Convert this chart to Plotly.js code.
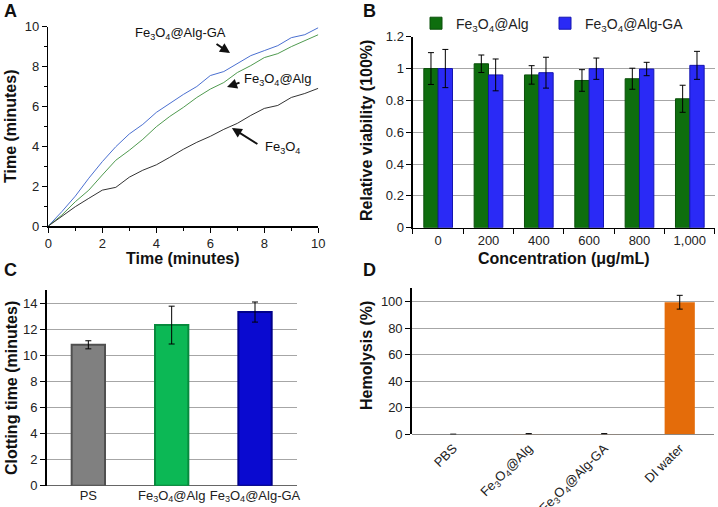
<!DOCTYPE html>
<html><head><meta charset="utf-8">
<script src="https://cdn.plot.ly/plotly-3.0.1.min.js"></script>
<style>html,body{margin:0;padding:0;background:#fff}#chart{width:718px;height:507px}</style>
</head><body><div id="chart"></div>
<script>
// Panel A: time series
const timeA = [0,0.5,1,1.5,2,2.5,3,3.5,4,4.5,5,5.5,6,6.5,7,7.5,8,8.5,9,9.5,10];
const algGA_A = [0,0.72,1.5,2.4,3.23,3.98,4.62,5.1,5.7,6.15,6.6,7.0,7.55,7.75,8.15,8.55,8.8,9.05,9.45,9.6,9.95];
const alg_A = [0,0.55,1.22,1.8,2.56,3.3,3.8,4.35,4.98,5.5,5.95,6.45,6.87,7.2,7.7,8.05,8.45,8.65,9.0,9.3,9.6];
const fe3o4_A = [0,0.47,0.97,1.39,1.8,1.94,2.45,2.8,3.07,3.45,3.85,4.2,4.5,4.85,5.15,5.55,5.9,6.05,6.45,6.65,6.91];

// Panel B: viability
const concB = ['0','200','400','600','800','1,000'];
const algB = [1.0,1.03,0.96,0.925,0.936,0.81];
const algB_err = [0.1,0.055,0.058,0.068,0.066,0.085];
const gaB = [1.0,0.96,0.974,0.999,0.997,1.02];
const gaB_err = [0.12,0.1,0.097,0.067,0.042,0.088];

// Panel C: clotting time
const catC = ['PS','Fe<sub>3</sub>O<sub>4</sub>@Alg','Fe<sub>3</sub>O<sub>4</sub>@Alg-GA'];
const valC = [10.8,12.31,13.31];
const errC = [0.31,1.45,0.77];
const colC = ['#808080','#0cb855','#0a0ad0'];
const lineC = ['#505050','#078a3d','#00008a'];

// Panel D: hemolysis
const catD = ['PBS','Fe<sub>3</sub>O<sub>4</sub>@Alg','Fe<sub>3</sub>O<sub>4</sub>@Alg-GA','DI water'];
const valD = [0,0.3,0.3,99.5];
const errD = [0,0.2,0.2,5.2];

const FONT = 'Liberation Sans, Arial, sans-serif';
const fe = 'Fe<sub>3</sub>O<sub>4</sub>';

const traces = [
  {type:'scatter',mode:'lines',x:timeA,y:algGA_A,line:{color:'#4a6fd0',width:1},xaxis:'x',yaxis:'y',showlegend:false},
  {type:'scatter',mode:'lines',x:timeA,y:alg_A,line:{color:'#4f9a4f',width:1},xaxis:'x',yaxis:'y',showlegend:false},
  {type:'scatter',mode:'lines',x:timeA,y:fe3o4_A,line:{color:'#333333',width:1},xaxis:'x',yaxis:'y',showlegend:false},
  {type:'bar',name:fe+'@Alg',x:concB,y:algB,error_y:{type:'data',array:algB_err,color:'#000',thickness:1,width:3},
   marker:{color:'#0e6e0e',line:{color:'#0a500a',width:1}},xaxis:'x2',yaxis:'y2',legend:'legend'},
  {type:'bar',name:fe+'@Alg-GA',x:concB,y:gaB,error_y:{type:'data',array:gaB_err,color:'#000',thickness:1,width:3},
   marker:{color:'#2a2af6',line:{color:'#1515b0',width:1}},xaxis:'x2',yaxis:'y2',legend:'legend2'},
  {type:'bar',x:catC,y:valC,error_y:{type:'data',array:errC,color:'#000',thickness:1,width:3},
   marker:{color:colC,line:{color:lineC,width:2}},width:0.4,xaxis:'x3',yaxis:'y3',showlegend:false},
  {type:'bar',x:catD,y:valD,error_y:{type:'data',array:errD,color:'#000',thickness:1,width:3},
   marker:{color:'#e46c0a'},width:0.4,xaxis:'x4',yaxis:'y4',showlegend:false}
];

const axBase = {showline:true,linecolor:'#000',linewidth:1.5,ticks:'outside',tickcolor:'#000',ticklen:5,
  tickfont:{family:FONT,size:13,color:'#222'},zeroline:false,fixedrange:true};
const grid = {showgrid:true,gridcolor:'#a6a6a6',gridwidth:1};

function lab(x, y, text, size, angle){
  return {xref:'paper',yref:'paper',x:x/718,y:1-y/507,xanchor:'center',yanchor:'middle',text:text,
    textangle:angle||0,showarrow:false,font:{family:FONT,size:size,color:'#111'}};
}
const legBase = {orientation:'h',y:0.985,xanchor:'left',yanchor:'top',font:{family:FONT,size:14,color:'#222'},
  bgcolor:'rgba(0,0,0,0)'};

const layout = {
  width:718,height:507,margin:{l:0,r:0,t:0,b:0},paper_bgcolor:'#fff',plot_bgcolor:'rgba(0,0,0,0)',
  font:{family:FONT,size:13,color:'#222'},
  barmode:'group',bargap:0.43,bargroupgap:0,
  showlegend:true,
  legend:Object.assign({},legBase,{x:416/718}),
  legend2:Object.assign({},legBase,{x:545/718}),
  xaxis:Object.assign({},axBase,{domain:[0.0673,0.4433],range:[0,10],dtick:2,showgrid:false,
    minor:{ticks:'outside',ticklen:3,tickcolor:'#000',dtick:1,showgrid:false},anchor:'y'}),
  yaxis:Object.assign({},axBase,{domain:[0.5542,0.9473],range:[0,10],dtick:2,showgrid:false,
    minor:{ticks:'outside',ticklen:3,tickcolor:'#000',dtick:1,showgrid:false},anchor:'x'}),
  xaxis2:Object.assign({},axBase,{domain:[0.5752,0.9958],type:'category',range:[-0.5,5.5],tickson:'boundaries',anchor:'y2',ticklen:5}),
  yaxis2:Object.assign({},axBase,grid,{domain:[0.5509,0.9276],range:[0,1.2],dtick:0.2,anchor:'x2'}),
  xaxis3:Object.assign({},axBase,{domain:[0.065,0.4132],type:'category',range:[-0.5,2.5],showline:false,ticks:'',anchor:'y3',
    tickfont:{family:FONT,size:13,color:'#222'}}),
  yaxis3:Object.assign({},axBase,grid,{domain:[0.042,0.428],range:[0,15],dtick:2,anchor:'x3',zeroline:true,zerolinecolor:'#666',zerolinewidth:1}),
  xaxis4:Object.assign({},axBase,{domain:[0.5734,0.994],type:'category',range:[-0.55,3.45],showline:false,ticks:'',tickangle:-45,anchor:'y4',
    ticklabelstandoff:3}),
  yaxis4:Object.assign({},axBase,grid,{domain:[0.1434,0.4314],range:[0,110],dtick:20,anchor:'x4',zeroline:true,zerolinecolor:'#888',zerolinewidth:1}),
  annotations:[
    // panel letters
    lab(10,11,'<b>A</b>',18), lab(369,11,'<b>B</b>',18), lab(10,270,'<b>C</b>',18), lab(369,270,'<b>D</b>',18),
    // axis titles
    lab(183,258,'<b>Time (minutes)</b>',16),
    lab(11,126,'<b>Time (minutes)</b>',16,-90),
    lab(564,258,'<b>Concentration (μg/mL)</b>',16),
    lab(366,131,'<b>Relative viability (100%)</b>',16,-90),
    lab(11,388,'<b>Clotting time (minutes)</b>',16,-90),
    lab(366,356,'<b>Hemolysis (%)</b>',16,-90),
    // panel A labels
    {xref:'x',yref:'y',x:4.88,y:9.68,text:fe+'@Alg-GA',showarrow:false,font:{family:FONT,size:13,color:'#111'}},
    {xref:'x',yref:'y',x:7.17,y:7.33,xanchor:'left',text:fe+'@Alg',showarrow:false,font:{family:FONT,size:13,color:'#111'}},
    {xref:'x',yref:'y',x:7.95,y:3.96,xanchor:'left',text:fe,showarrow:false,font:{family:FONT,size:13,color:'#111'}},
    {xref:'x',yref:'y',x:6.73,y:8.68,ax:-15,ay:-10,text:'',showarrow:true,arrowhead:2,arrowsize:1,arrowwidth:2,arrowcolor:'#111'},
    {xref:'x',yref:'y',x:6.62,y:6.97,ax:14,ay:-5,text:'',showarrow:true,arrowhead:2,arrowsize:1,arrowwidth:2,arrowcolor:'#111'},
    {xref:'x',yref:'y',x:6.8,y:4.92,ax:27,ay:17,text:'',showarrow:true,arrowhead:2,arrowsize:1,arrowwidth:2,arrowcolor:'#111'}
  ]
};
Plotly.newPlot('chart',traces,layout,{staticPlot:true,displayModeBar:false});
</script></body></html>
